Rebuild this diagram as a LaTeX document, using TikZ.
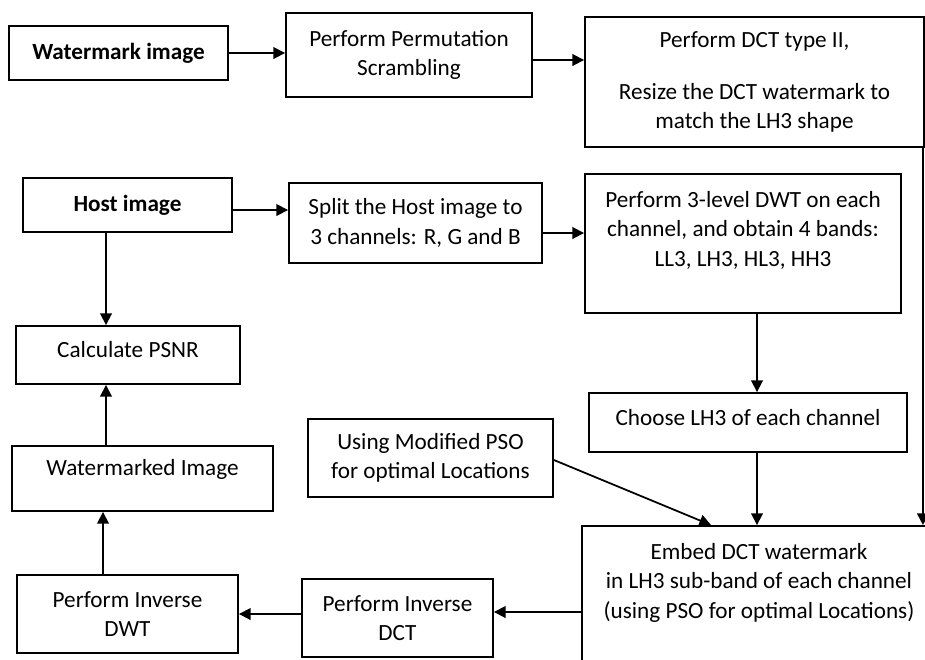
\documentclass[tikz,border=0pt]{standalone}
\usepackage{fontspec}
\setmainfont{Carlito}
\usepackage{tikz}
\usetikzlibrary{arrows.meta,calc,positioning}

\begin{document}
\begin{tikzpicture}[x=0.03cm, y=-0.03cm,
  box/.style={draw, line width=1.6pt, inner sep=2pt, align=center, font=\fontsize{19.8}{25}\selectfont},
  arr/.style={-{Triangle[length=10pt,width=10pt]}, line width=1.5pt}]
\useasboundingbox (0,0) rectangle (925,659);

% --- watermark branch ---
\node[box, minimum width=6.57cm, minimum height=1.62cm] (wmimg) at (118.5,53) {\textbf{Watermark image}};
\node[box, minimum width=7.38cm, minimum height=2.52cm] (perm) at (409,55) {Perform Permutation\\Scrambling};
\node[box, minimum width=10.17cm, minimum height=3.9cm] (dct) at (754.5,82)
  {Perform DCT type II,\\[19pt]Resize the DCT watermark to\\match the LH3 shape};

% --- host branch ---
\node[box, minimum width=6.27cm, minimum height=1.62cm] (host) at (127.5,205) {\textbf{Host image}};
\node[box, minimum width=7.59cm, minimum height=2.4cm] (split) at (415.5,223) {Split the Host image to\\3 channels: R, G and B};
\node[box, minimum width=9.48cm, minimum height=4.17cm] (dwt) at (743,243.5)
  {Perform 3-level DWT on each\\channel, and obtain 4 bands:\\LL3, LH3, HL3, HH3\\\mbox{}};
\node[box, minimum width=9.54cm, minimum height=1.77cm, text depth=8.5pt] (choose) at (748,422.5) {Choose LH3 of each channel};
\node[box, minimum width=7.35cm, minimum height=2.34cm] (pso) at (430.5,458) {Using Modified PSO\\for optimal Locations};
\node[box, minimum width=10.62cm, minimum height=5.04cm] (embed) at (759,610)
  {Embed DCT watermark\\in LH3 sub-band of each channel\\(using PSO for optimal Locations)\\\mbox{}\\\mbox{}};

% --- reconstruction ---
\node[box, minimum width=6.72cm, minimum height=1.74cm, text depth=10pt] (psnr) at (128,355) {Calculate PSNR};
\node[box, minimum width=7.83cm, minimum height=1.95cm, text depth=18.5pt] (wmd) at (142.5,478.5) {Watermarked Image};
\node[box, minimum width=6.63cm, minimum height=2.34cm] (idwt) at (127.5,614) {Perform Inverse\\DWT};
\node[box, minimum width=5.73cm, minimum height=2.34cm] (idct) at (397.5,618) {Perform Inverse\\DCT};

% --- connectors ---
\draw[arr] (wmimg.east) -- (wmimg.east -| perm.west);
\draw[arr] ($(perm.east)+(0,5)$) -- ($(perm.east -| dct.west)+(0,5)$);
\draw[arr] ($(host.east)+(0,5)$) -- ($(host.east -| split.west)+(0,5)$);
\draw[arr] ($(split.east)+(0,10)$) -- ($(split.east -| dwt.west)+(0,10)$);
\draw[arr] ($(dct.south east)+(-2,0)$) -- ($(embed.north east)+(-14,0)$);
\draw[arr] ($(dwt.south)+(14,0)$) -- ($(choose.north)+(9,0)$);
\draw[arr] ($(choose.south)+(9,0)$) -- ($(embed.north)+(-2,0)$);
\draw[arr] ($(pso.east)+(0,2)$) -- ($(embed.north west)+(130,0)$);
\draw[arr] ($(embed.west)+(0,2)$) -- ($(embed.west -| idct.east)+(0,2)$);
\draw[arr] ($(idct.west)+(0,-4)$) -- ($(idct.west -| idwt.east)+(0,-4)$);
\draw[arr] ($(idwt.north)+(-24.5,0)$) -- ($(wmd.south)+(-39.5,0)$);
\draw[arr] ($(wmd.north)+(-36.5,0)$) -- ($(psnr.south)+(-22,0)$);
\draw[arr] ($(host.south)+(-21.5,0)$) -- ($(psnr.north)+(-22,0)$);
\end{tikzpicture}
\end{document}
